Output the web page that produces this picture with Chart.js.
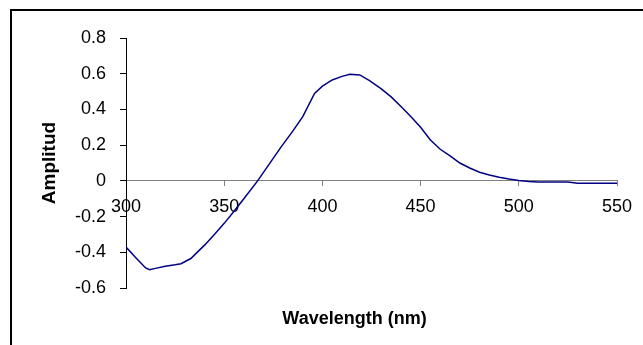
<!DOCTYPE html>
<html>
<head>
<meta charset="utf-8">
<script src="https://cdn.jsdelivr.net/npm/chart.js@4.4.1/dist/chart.umd.min.js"></script>
<style>
  html, body { margin: 0; padding: 0; background: #fff; }
  #wrap { position: relative; width: 643px; height: 345px; overflow: hidden; }
  #frame { position: absolute; left: 10px; top: 9px; width: 700px; height: 400px;
           border-left: 2px solid #000; border-top: 2px solid #000; }
  #c { position: absolute; left: 0; top: 0; }
</style>
</head>
<body>
<div id="wrap">
  <div id="frame"></div>
  <canvas id="c" width="643" height="345"></canvas>
</div>
<script>
//-----------------------------------------------------------------------------
// data
//-----------------------------------------------------------------------------
const wavelengths = [300, 305, 310, 312, 315, 320, 325, 328, 333, 340, 345, 350, 355, 360, 367,
                     373, 379, 385, 390, 396, 400, 405, 410, 414, 419, 424, 430, 435, 440, 445,
                     450, 455, 460, 465, 470, 475, 480, 485, 490, 495, 500, 505, 510, 520, 525,
                     530, 550];
const amplitude   = [-0.371, -0.43, -0.488, -0.498, -0.49, -0.478, -0.47, -0.464, -0.435, -0.36, -0.30, -0.238, -0.17, -0.10, 0.0,
                     0.095, 0.19, 0.28, 0.36, 0.49, 0.53, 0.565, 0.585, 0.597, 0.593, 0.561, 0.515, 0.47, 0.416, 0.36,
                     0.30, 0.229, 0.177, 0.14, 0.10, 0.072, 0.048, 0.033, 0.02, 0.01, 0.002, -0.004, -0.006, -0.006, -0.007,
                     -0.013, -0.013];
const xTickLabels = ['300', '350', '400', '450', '500', '550'];
const yTickLabels = ['-0.6', '-0.4', '-0.2', '0', '0.2', '0.4', '0.6', '0.8'];
const xTitle = 'Wavelength (nm)';
const yTitle = 'Amplitud';

const FONT = '"Liberation Sans", Arial, sans-serif';

// x axis title is drawn by hand: the x axis itself sits on the zero line
const xTitlePlugin = {
    id: 'xTitle',
    afterDraw(chart) {
        const { ctx, chartArea } = chart;
        ctx.save();
        ctx.font = `bold 18px ${FONT}`;
        ctx.fillStyle = '#000';
        ctx.textAlign = 'center';
        ctx.textBaseline = 'middle';
        ctx.fillText(xTitle, (chartArea.left + chartArea.right) / 2 - 17, chartArea.bottom + 31);
        ctx.restore();
    }
};

const points = wavelengths.map((w, i) => ({ x: w, y: amplitude[i] }));

new Chart(document.getElementById('c'), {
    type: 'line',
    data: {
        datasets: [{
            data: points,
            borderColor: '#000080',
            borderWidth: 1.5,
            pointRadius: 0,
            tension: 0,
            fill: false
        }]
    },
    options: {
        responsive: false,
        animation: false,
        events: [],
        layout: {
            padding: { left: 10, top: 38, right: 26, bottom: 57 }
        },
        plugins: {
            legend: { display: false },
            tooltip: { enabled: false }
        },
        scales: {
            x: {
                type: 'linear',
                position: { y: 0 },          // axis crosses at zero like excel
                min: 300,
                max: 550,
                afterFit: (scale) => { scale.height = 0; },
                grid: {
                    drawOnChartArea: false,
                    drawTicks: true,
                    tickLength: 5,
                    color: '#808080'
                },
                border: { display: true, color: '#808080', width: 1 },
                ticks: {
                    stepSize: 50,
                    padding: 10,
                    maxRotation: 0,
                    color: '#000',
                    font: { family: FONT, size: 18 },
                    callback: (v, i) => xTickLabels[i]
                }
            },
            y: {
                min: -0.6,
                max: 0.8,
                afterFit: (scale) => { scale.width = 116; },
                grid: {
                    drawOnChartArea: false,
                    drawTicks: true,
                    tickLength: 6,
                    color: '#000'
                },
                border: { display: true, color: '#000', width: 1 },
                ticks: {
                    stepSize: 0.2,
                    padding: 14,
                    color: '#000',
                    font: { family: FONT, size: 18 },
                    callback: (v, i) => yTickLabels[i]
                },
                title: {
                    display: true,
                    text: yTitle,
                    color: '#000',
                    font: { family: FONT, size: 19, weight: 'bold' },
                    padding: { top: 28, bottom: 0 }
                }
            }
        }
    },
    plugins: [xTitlePlugin]
});
</script>
</body>
</html>
